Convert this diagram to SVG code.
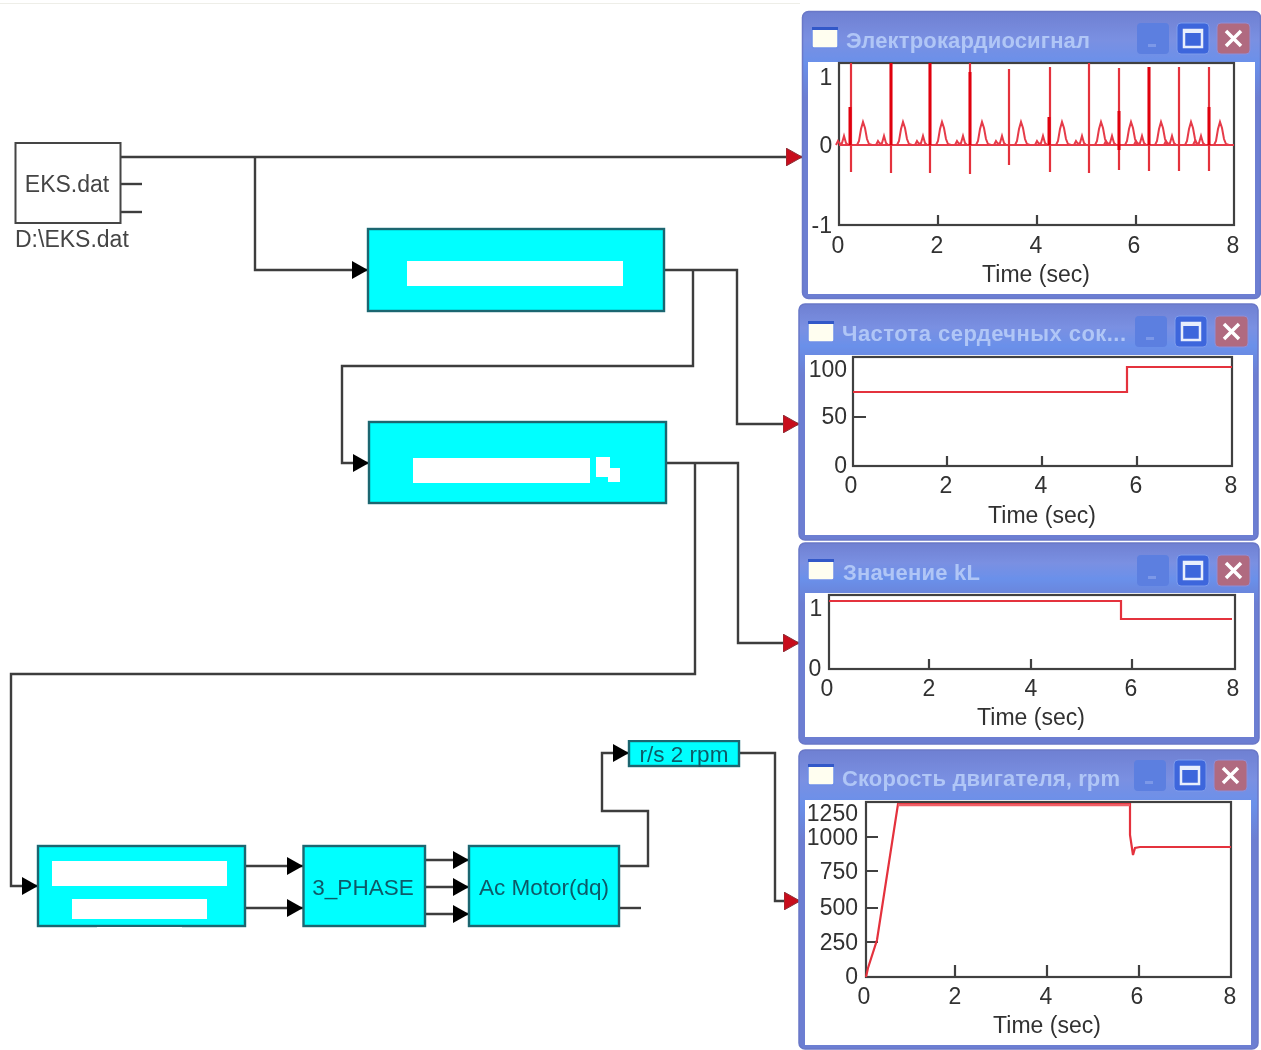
<svg xmlns="http://www.w3.org/2000/svg" width="1261" height="1050" viewBox="0 0 1261 1050">
<style>
text{font-family:"Liberation Sans",Arial,sans-serif}
svg>g{filter:url(#soft)}
.wire{fill:none;stroke:#3c3c3c;stroke-width:2.4}
.block{fill:#00ffff;stroke:#1c6670;stroke-width:2.4}
.mask{fill:#fff}
.btxt{font-size:22.5px;fill:#0d5a68;text-anchor:middle}
.ftxt{font-size:23px;fill:#444}
.frame{fill:url(#titleGrad);stroke:#6a78c8;stroke-width:1.5}
.client{fill:#fff}
.title{font-size:22px;font-weight:700;fill:#b0c6f6}
.plot{fill:#fff;stroke:#404040;stroke-width:2.2}
.tick{fill:none;stroke:#404040;stroke-width:2.2}
.num{font-size:23px;fill:#303030;text-anchor:middle}
.numr{font-size:23px;fill:#303030;text-anchor:end}
.trace{fill:none;stroke:#e4303c;stroke-width:2.2}
.ecg{fill:none;stroke:#e63a48;stroke-width:2}
</style>
<defs>
<filter id="soft" x="-2%" y="-2%" width="104%" height="104%"><feGaussianBlur stdDeviation="0.45"/></filter>
<linearGradient id="titleGrad" x1="0" y1="0" x2="0" y2="1">
<stop offset="0" stop-color="#6f80d2"/><stop offset="0.1" stop-color="#7a90e2"/><stop offset="0.18" stop-color="#6a90ea"/><stop offset="0.3" stop-color="#6c7ed2"/><stop offset="1" stop-color="#6c7ed2"/>
</linearGradient>
<marker id="arrowBlack" markerUnits="userSpaceOnUse" markerWidth="16" markerHeight="18" refX="16" refY="9" orient="auto"><path d="M0 0L16 9L0 18Z" fill="#000"/></marker>
<marker id="arrowRed" markerUnits="userSpaceOnUse" markerWidth="16" markerHeight="18" refX="16" refY="9" orient="auto"><path d="M0 0L16 9L0 18Z" fill="#c8101c" stroke="#8a3038" stroke-width="1"/></marker>
<g id="buttons">
<rect x="0" y="0" width="32" height="31" rx="4" fill="#5c7fe0"/>
<rect x="11" y="21" width="8" height="3" fill="#7c98e8"/>
<rect x="40" y="0" width="32" height="31" rx="4" fill="#3d66dc" stroke="#7f9cec"/>
<rect x="47" y="7" width="18" height="17" fill="#3d66dc" stroke="#e8eefc" stroke-width="2.5"/>
<rect x="47" y="6" width="18" height="4" fill="#e8eefc"/>
<rect x="80" y="0" width="33" height="31" rx="4" fill="#b06a80" stroke="#8f8ed8"/>
<path d="M89 8L104 23M104 8L89 23" stroke="#fff" stroke-width="3.5" fill="none"/>
</g>
<g id="icon">
<rect x="0" y="0" width="26" height="20" rx="2" fill="#fffef0" stroke="#6f8ee8" stroke-width="1.5"/>
<rect x="0" y="-1" width="26" height="3" fill="#3058c8"/>
</g>
<path id="beat" d="M-15 0L-13 -4L-11 -1L-9 -2L-7 -9L-5 -2L-3 0L-1 0M1 0L6 0L8 -4L10 -16L12 -23L14 -17L16 -6L18 -1L21 0"/>
</defs>

<rect x="0" y="0" width="1261" height="1050" fill="#fff"/>
<rect x="0" y="3" width="800" height="1" fill="#eeeee8"/>

<g id="connectors">
<path class="wire" marker-end="url(#arrowRed)" d="M120 157H802"/>
<path class="wire" marker-end="url(#arrowBlack)" d="M255 157V270H368"/>
<path class="wire" d="M120 184H142"/>
<path class="wire" d="M120 212H142"/>
<path class="wire" marker-end="url(#arrowRed)" d="M664 270H737V424H799"/>
<path class="wire" marker-end="url(#arrowBlack)" d="M693 270V366H342V463H369"/>
<path class="wire" marker-end="url(#arrowRed)" d="M666 463H738V643H799"/>
<path class="wire" marker-end="url(#arrowBlack)" d="M695 463V674H11V886H38"/>
<path class="wire" marker-end="url(#arrowBlack)" d="M245 866H303"/>
<path class="wire" marker-end="url(#arrowBlack)" d="M245 908H303"/>
<path class="wire" marker-end="url(#arrowBlack)" d="M425 860H469"/>
<path class="wire" marker-end="url(#arrowBlack)" d="M425 887H469"/>
<path class="wire" marker-end="url(#arrowBlack)" d="M425 914H469"/>
<path class="wire" marker-end="url(#arrowBlack)" d="M619 866H648V811H602V753H629"/>
<path class="wire" d="M619 908H641"/>
<path class="wire" marker-end="url(#arrowRed)" d="M739 753H775V901H800"/>
</g>

<g id="node-eks">
<rect x="15.500" y="143" width="105" height="80" fill="#fff" stroke="#444" stroke-width="2"/>
<text class="ftxt" x="67" y="192" text-anchor="middle">EKS.dat</text>
<text class="ftxt" x="15" y="247">D:\EKS.dat</text>
</g>

<g id="node-block1">
<rect class="block" x="368" y="229" width="296" height="82"/>
<rect class="mask" x="407" y="261" width="216" height="25"/>
</g>

<g id="node-block2">
<rect class="block" x="369" y="422" width="297" height="81"/>
<rect class="mask" x="413" y="458" width="177" height="25"/>
<rect class="mask" x="596" y="457" width="14" height="20"/>
<rect class="mask" x="608" y="468" width="12" height="14"/>
</g>

<g id="node-block3">
<rect class="block" x="38" y="846" width="207" height="80"/>
<rect class="mask" x="52" y="861" width="175" height="25"/>
<rect class="mask" x="72" y="899" width="135" height="20"/>
<rect class="mask" x="97" y="927" width="85" height="3"/>
</g>

<g id="node-phase">
<rect class="block" x="303.500" y="846" width="121.500" height="80"/>
<text class="btxt" x="363" y="895">3_PHASE</text>
</g>

<g id="node-motor">
<rect class="block" x="469" y="846" width="150" height="80"/>
<text class="btxt" x="544" y="895">Ac Motor(dq)</text>
</g>

<g id="node-rs">
<rect class="block" x="629" y="741" width="110" height="25"/>
<text class="btxt" x="684" y="762">r/s 2 rpm</text>
</g>

<g id="scope-ecg">
<rect class="frame" x="802.500" y="11.500" width="458" height="287" rx="6"/>
<rect class="client" x="808" y="62" width="447" height="232"/>
<use href="#icon" x="812" y="28"/>
<text class="title" x="846" y="48" textLength="244" lengthAdjust="spacing">Электрокардиосигнал</text>
<use href="#buttons" x="1137" y="23"/>
<rect class="plot" x="839" y="63" width="395" height="162"/>
<path class="tick" d="M938 225V215M1037 225V215M1136 225V215"/>
<path class="ecg" d="M839 145H1234"/>
<g class="ecg">
<use href="#beat" x="851" y="145"/><use href="#beat" x="891" y="145"/><use href="#beat" x="930" y="145"/><use href="#beat" x="970" y="145"/><use href="#beat" x="1009" y="145"/><use href="#beat" x="1050" y="145"/><use href="#beat" x="1089" y="145"/><use href="#beat" x="1119" y="145"/><use href="#beat" x="1149" y="145"/><use href="#beat" x="1179" y="145"/><use href="#beat" x="1208" y="145"/>
</g>
<path class="trace" d="M851 63V172M891 63V173M930 63V173M970 63V174M1009 69V165M1050 67V172M1089 63V173M1119 68V170M1149 67V171M1179 67V171M1209 67V171"/>
<path fill="none" stroke="#e00010" stroke-width="3" d="M850 107V145M891 63V145M930 63V145M970 72V145M1049 117V145M1119 111V150M1149 67V145M1209 107V145"/>
<text class="num" x="826" y="85">1</text><text class="num" x="826" y="153">0</text><text class="numr" x="832" y="233">-1</text>
<text class="num" x="838" y="253">0</text><text class="num" x="937" y="253">2</text><text class="num" x="1036" y="253">4</text><text class="num" x="1134" y="253">6</text><text class="num" x="1233" y="253">8</text>
<text class="num" x="1036" y="282">Time (sec)</text>
</g>

<g id="scope-hr">
<rect class="frame" x="799" y="304" width="459" height="236" rx="6"/>
<rect class="client" x="805" y="355" width="448" height="180"/>
<use href="#icon" x="808" y="322"/>
<text class="title" x="842" y="341" textLength="284" lengthAdjust="spacing">Частота сердечных сок...</text>
<use href="#buttons" x="1135" y="316"/>
<rect class="plot" x="853" y="357" width="379" height="109"/>
<path class="tick" d="M853 417H866M947 466V456M1042 466V456M1137 466V456"/>
<path class="trace" d="M853 392H1127V367H1232"/>
<text class="numr" x="847" y="377">100</text><text class="numr" x="847" y="424">50</text><text class="numr" x="847" y="473">0</text>
<text class="num" x="851" y="493">0</text><text class="num" x="946" y="493">2</text><text class="num" x="1041" y="493">4</text><text class="num" x="1136" y="493">6</text><text class="num" x="1231" y="493">8</text>
<text class="num" x="1042" y="523">Time (sec)</text>
</g>

<g id="scope-kl">
<rect class="frame" x="799" y="543" width="460" height="201" rx="6"/>
<rect class="client" x="805" y="593" width="449" height="144"/>
<use href="#icon" x="808" y="560"/>
<text class="title" x="843" y="580" textLength="137" lengthAdjust="spacing">Значение kL</text>
<use href="#buttons" x="1137" y="555"/>
<rect class="plot" x="829" y="595" width="406" height="74"/>
<path class="tick" d="M929 669V659M1031 669V659M1132 669V659"/>
<path class="trace" d="M829 601H1121V619H1232"/>
<text class="num" x="816" y="616">1</text><text class="num" x="815" y="676">0</text>
<text class="num" x="827" y="696">0</text><text class="num" x="929" y="696">2</text><text class="num" x="1031" y="696">4</text><text class="num" x="1131" y="696">6</text><text class="num" x="1233" y="696">8</text>
<text class="num" x="1031" y="725">Time (sec)</text>
</g>

<g id="scope-speed">
<rect class="frame" x="799" y="750" width="459" height="299" rx="6"/>
<rect class="client" x="805" y="800" width="446" height="245"/>
<use href="#icon" x="808" y="765"/>
<text class="title" x="842" y="786" textLength="278" lengthAdjust="spacing">Скорость двигателя, rpm</text>
<use href="#buttons" x="1134" y="760"/>
<rect class="plot" x="866" y="802" width="365" height="175"/>
<path class="tick" d="M866 837H878M866 871H878M866 908H878M866 942H878M955 977V965M1047 977V965M1139 977V965"/>
<path class="trace" d="M866 977L868 968L877 940L898 804H1130V835L1133 855L1135 848L1140 847H1231"/>
<path fill="none" stroke="#f06068" stroke-width="2.5" d="M898 805H1130"/>
<text class="numr" x="858" y="821">1250</text><text class="numr" x="858" y="845">1000</text><text class="numr" x="858" y="879">750</text><text class="numr" x="858" y="915">500</text><text class="numr" x="858" y="950">250</text><text class="numr" x="858" y="984">0</text>
<text class="num" x="864" y="1004">0</text><text class="num" x="955" y="1004">2</text><text class="num" x="1046" y="1004">4</text><text class="num" x="1137" y="1004">6</text><text class="num" x="1230" y="1004">8</text>
<text class="num" x="1047" y="1033">Time (sec)</text>
</g>
</svg>
